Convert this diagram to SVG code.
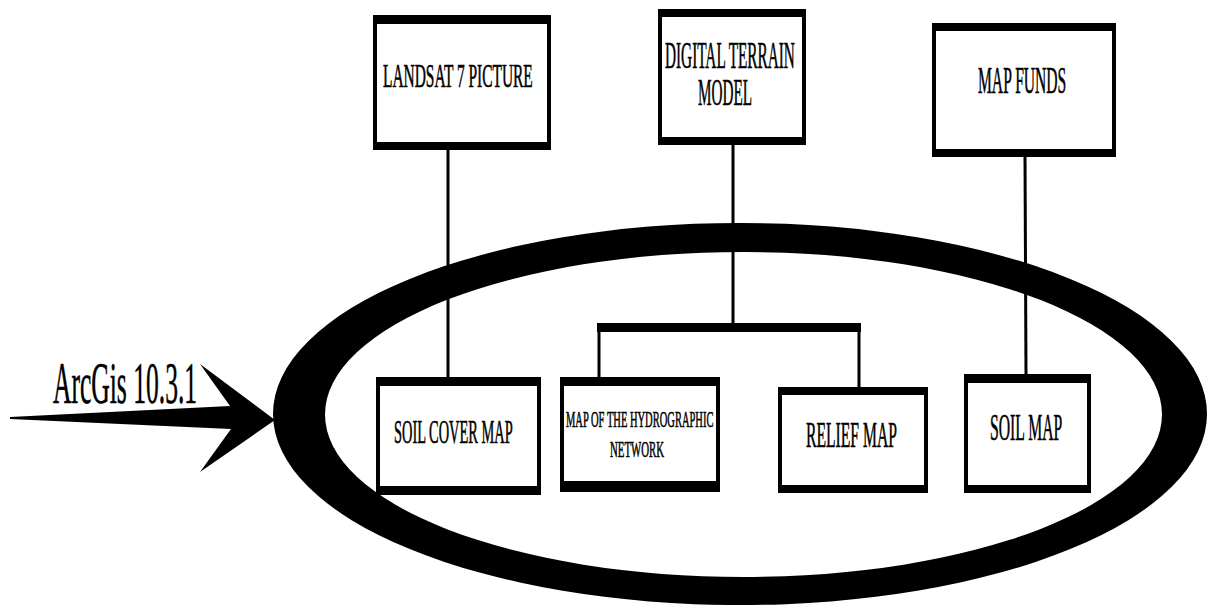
<svg xmlns="http://www.w3.org/2000/svg" width="1208" height="605" viewBox="0 0 1208 605">
<style>
.box{fill:#fff;stroke:#000;stroke-width:4}
.bar{fill:#000}
.t{font-family:"Liberation Serif","Times New Roman",serif;fill:#000;stroke:#000;stroke-width:0.6}
.c{stroke:#000;stroke-width:3;fill:none}
</style>
<rect width="1208" height="605" fill="#fff"/>
<g id="ellipse">
<path fill="#000" fill-rule="evenodd" d="M273,414 A467,191 0 1,0 1207,414 A467,191 0 1,0 273,414 Z M325,414.5 A418.5,162.5 0 1,0 1162,414.5 A418.5,162.5 0 1,0 325,414.5 Z"/>
</g>
<g id="arcgis-arrow">
<polygon fill="#000" points="10,417 230,406 200,364 275,420 200,472 231,429 10,419"/>
<text class="t" transform="translate(53,403) scale(0.426,1)" font-size="60">ArcGis 10.3.1</text>
</g>
<g id="connectors">
<line class="c" x1="448" y1="150" x2="448" y2="377"/>
<line class="c" x1="733" y1="145" x2="733" y2="324"/>
<line x1="597" y1="327.5" x2="861" y2="327.5" stroke="#000" stroke-width="9"/>
<line class="c" x1="599" y1="330" x2="599" y2="377"/>
<line class="c" x1="859" y1="330" x2="859" y2="387"/>
<line class="c" x1="1025" y1="157" x2="1026" y2="374"/>
</g>
<g id="landsat">
<rect class="box" x="375" y="17" width="174" height="131"/>
<rect class="bar" x="373" y="15" width="178" height="9"/>
<rect class="bar" x="373" y="142" width="178" height="8"/>
<text class="t" transform="translate(383,87) scale(0.468,1)" font-size="33">LANDSAT 7 PICTURE</text>
</g>
<g id="dtm">
<rect class="box" x="660" y="11" width="144" height="132"/>
<rect class="bar" x="658" y="9" width="148" height="8"/>
<rect class="bar" x="658" y="137" width="148" height="8"/>
<text class="t" transform="translate(665,68) scale(0.413,1)" font-size="37">DIGITAL TERRAIN</text>
<text class="t" transform="translate(698,105) scale(0.411,1)" font-size="37">MODEL</text>
</g>
<g id="mapfunds">
<rect class="box" x="934" y="25" width="180" height="130"/>
<rect class="bar" x="932" y="23" width="184" height="8"/>
<rect class="bar" x="932" y="149" width="184" height="8"/>
<text class="t" transform="translate(978,93) scale(0.422,1)" font-size="37">MAP FUNDS</text>
</g>
<g id="soilcover">
<rect class="box" x="378" y="379" width="161" height="114"/>
<rect class="bar" x="376" y="377" width="165" height="9"/>
<rect class="bar" x="376" y="486" width="165" height="9"/>
<text class="t" transform="translate(394,443) scale(0.437,1)" font-size="33">SOIL COVER MAP</text>
</g>
<g id="hydro">
<rect class="box" x="562" y="379" width="156" height="111"/>
<rect class="bar" x="560" y="377" width="160" height="9"/>
<rect class="bar" x="560" y="481" width="160" height="11"/>
<text class="t" transform="translate(566,427) scale(0.457,1)" font-size="23">MAP OF THE HYDROGRAPHIC</text>
<text class="t" transform="translate(610,457) scale(0.47,1)" font-size="23">NETWORK</text>
</g>
<g id="relief">
<rect class="box" x="780" y="389" width="146" height="102"/>
<rect class="bar" x="778" y="387" width="150" height="8"/>
<rect class="bar" x="778" y="485" width="150" height="8"/>
<text class="t" transform="translate(806,447) scale(0.435,1)" font-size="36">RELIEF MAP</text>
</g>
<g id="soilmap">
<rect class="box" x="966" y="376" width="123" height="115"/>
<rect class="bar" x="964" y="374" width="127" height="9"/>
<rect class="bar" x="964" y="485" width="127" height="8"/>
<text class="t" transform="translate(990,440) scale(0.425,1)" font-size="37">SOIL MAP</text>
</g>
</svg>
